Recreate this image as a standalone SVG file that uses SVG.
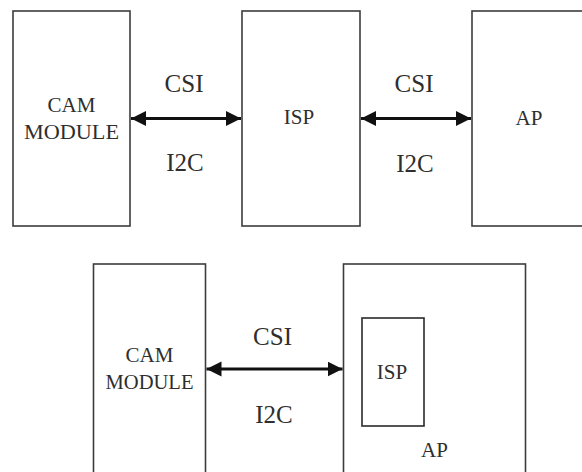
<svg xmlns="http://www.w3.org/2000/svg" width="582" height="472" viewBox="0 0 582 472">
  <style>
    .box { fill: none; stroke: #3c3c3c; stroke-width: 1.6; }
    .inner { fill: none; stroke: #2a2a2a; stroke-width: 1.6; }
    .lbl { font-family: 'Liberation Serif', 'DejaVu Serif', 'Times New Roman', serif; fill: #2e2e2e; text-anchor: middle; }
    .node { font-size: 21px; }
    .bus { font-size: 25px; }
    .link { stroke: #111; stroke-width: 3; fill: none; marker-start: url(#head); marker-end: url(#head); }
  </style>
  <defs>
    <marker id="head" markerUnits="userSpaceOnUse" markerWidth="16" markerHeight="16" refX="15" refY="7.5" orient="auto-start-reverse" viewBox="0 0 16 16">
      <path d="M0,0 L15,7.5 L0,15 z" fill="#111"/>
    </marker>
  </defs>
  <rect width="582" height="472" fill="#ffffff"/>

  <!-- Separate ISP chain -->
  <g id="cam1">
    <rect class="box" x="13" y="11" width="117" height="215"/>
    <text class="lbl node" x="71.5" y="111.5">CAM</text>
    <text class="lbl node" x="71.5" y="139" textLength="95" lengthAdjust="spacingAndGlyphs">MODULE</text>
  </g>
  <g id="isp1">
    <rect class="box" x="242" y="11" width="118" height="215"/>
    <text class="lbl node" x="299" y="123.5">ISP</text>
  </g>
  <g id="ap1">
    <rect class="box" x="472" y="11" width="130" height="215"/>
    <text class="lbl node" x="529" y="124.5">AP</text>
  </g>

  <!-- Integrated ISP inside AP -->
  <g id="cam2">
    <rect class="box" x="93.5" y="264" width="112" height="230"/>
    <text class="lbl node" x="149.5" y="361.5">CAM</text>
    <text class="lbl node" x="149.5" y="388.5" textLength="88" lengthAdjust="spacingAndGlyphs">MODULE</text>
  </g>
  <g id="ap2">
    <rect class="box" x="343.5" y="264" width="182" height="230"/>
    <text class="lbl node" x="434.5" y="456.5">AP</text>
  </g>
  <g id="isp2">
    <rect class="inner" x="362" y="318" width="62" height="108"/>
    <text class="lbl node" x="392" y="378.5">ISP</text>
  </g>

  <g id="connectors">
    <line class="link" x1="131" y1="118.5" x2="241" y2="118.5"/>
    <line class="link" x1="361" y1="118.5" x2="471" y2="118.5"/>
    <line class="link" x1="206.5" y1="369" x2="342.5" y2="369"/>
    <text class="lbl bus" x="184" y="92">CSI</text>
    <text class="lbl bus" x="185" y="171">I2C</text>
    <text class="lbl bus" x="414" y="92">CSI</text>
    <text class="lbl bus" x="415" y="171.5">I2C</text>
    <text class="lbl bus" x="272.5" y="345">CSI</text>
    <text class="lbl bus" x="274" y="422.5">I2C</text>
  </g>
</svg>
